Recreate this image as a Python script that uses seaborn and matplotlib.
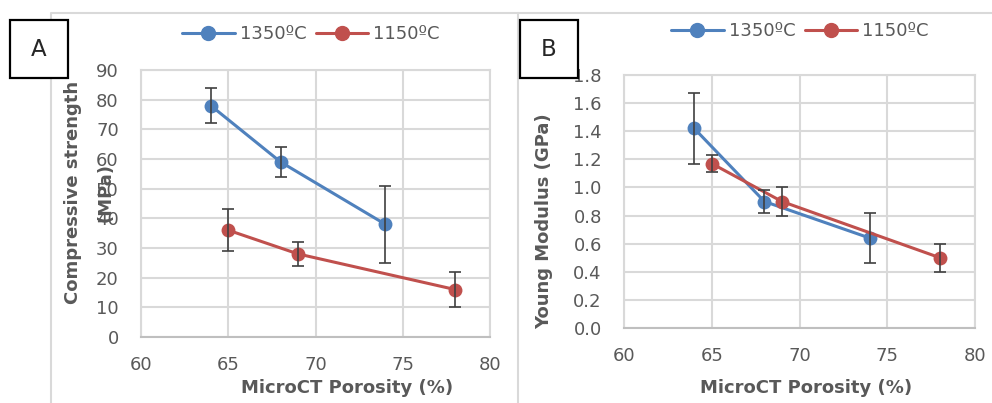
import pandas as pd
import seaborn as sns
import matplotlib.pyplot as plt
from matplotlib.patches import Rectangle
from matplotlib.lines import Line2D

# panel A: compressive strength
poro_1350 = [64, 68, 74]
poro_1150 = [65, 69, 78]
cs_1350 = [78, 59, 38]
cs_1350_err = [6, 5, 13]
cs_1150 = [36, 28, 16]
cs_1150_err = [7, 4, 6]

# panel B: young modulus
ym_1350 = [1.42, 0.90, 0.64]
ym_1350_err = [0.25, 0.085, 0.175]
ym_1150 = [1.17, 0.90, 0.50]
ym_1150_err = [0.06, 0.10, 0.10]

temps = ['1350ºC', '1150ºC']
colors = {'1350ºC': '#4F81BD', '1150ºC': '#C0504D'}

W, H = 992, 403
GRAY = '#595959'
GRID = '#D9D9D9'


def make_df(v1350, e1350, v1150, e1150):
    a = pd.DataFrame({'poro': poro_1350, 'val': v1350, 'err': e1350, 'temp': temps[0]})
    b = pd.DataFrame({'poro': poro_1150, 'val': v1150, 'err': e1150, 'temp': temps[1]})
    return pd.concat([a, b], ignore_index=True)


def px_axes(fig, x0, y0, x1, y1):
    return fig.add_axes([x0 / W, 1 - y1 / H, (x1 - x0) / W, (y1 - y0) / H])


def panel(ax, df, ylim, yticks, yfmt):
    sns.lineplot(data=df, x='poro', y='val', hue='temp', hue_order=temps, palette=colors,
                 marker='o', markersize=10, markeredgewidth=0, linewidth=2.2,
                 legend=False, ax=ax, zorder=3)
    for t in temps:
        d = df[df.temp == t]
        ax.errorbar(d.poro, d.val, yerr=d.err, fmt='none', ecolor='#404040',
                    elinewidth=1.2, capsize=4, capthick=1.2, zorder=4)
    ax.set_xlim(60, 80)
    ax.set_xticks([60, 65, 70, 75, 80])
    ax.set_ylim(*ylim)
    ax.set_yticks(yticks)
    ax.set_yticklabels([yfmt.format(v) for v in yticks])
    ax.grid(True, color=GRID, linewidth=1.5)
    ax.set_axisbelow(True)
    for s in ax.spines.values():
        s.set_color(GRID)
        s.set_linewidth(1.5)
    ax.spines['bottom'].set_color('#BFBFBF')
    ax.tick_params(axis='both', length=0, labelsize=13, labelcolor=GRAY)
    ax.tick_params(axis='y', pad=16)
    ax.tick_params(axis='x', pad=14)
    ax.set_xlabel('')
    ax.set_ylabel('')


def legend(fig, ax, cx, cy):
    handles = [Line2D([], [], color=colors[t], marker='o', markersize=10, linewidth=2.2) for t in temps]
    ax.legend(handles, temps, ncol=2, frameon=False, fontsize=13, labelcolor=GRAY,
              handlelength=2.9, handletextpad=0.3, columnspacing=0.5,
              loc='center', bbox_to_anchor=(cx / W, 1 - cy / H), bbox_transform=fig.transFigure)


def letter_box(fig, x0, y0, label):
    fig.patches.append(Rectangle((x0 / W, 1 - 78 / H), 58 / W, 58 / H, transform=fig.transFigure,
                                 facecolor='white', edgecolor='black', linewidth=1.6, zorder=10))
    fig.text((x0 + 29) / W, 1 - 49 / H, label, ha='center', va='center', fontsize=16.5, zorder=11)


sns.set_theme(style='whitegrid')
plt.rcParams['font.family'] = ['DejaVu Sans']

fig = plt.figure(figsize=(W / 100, H / 100), dpi=100)

# chart frames
fig.add_artist(Line2D([51 / W, 51 / W, 518 / W, 518 / W], [0, 1 - 13 / H, 1 - 13 / H, 0],
                      transform=fig.transFigure, color=GRID, linewidth=1.5))
fig.add_artist(Line2D([518 / W, 1], [1 - 13 / H, 1 - 13 / H],
                      transform=fig.transFigure, color=GRID, linewidth=1.5))

axA = px_axes(fig, 141, 70, 490, 337)
panel(axA, make_df(cs_1350, cs_1350_err, cs_1150, cs_1150_err), (0, 90), list(range(0, 91, 10)), '{:.0f}')
legend(fig, axA, 311, 34)

axB = px_axes(fig, 624, 75, 975, 328)
panel(axB, make_df(ym_1350, ym_1350_err, ym_1150, ym_1150_err), (0, 1.8),
      [0.0, 0.2, 0.4, 0.6, 0.8, 1.0, 1.2, 1.4, 1.6, 1.8], '{:.1f}')
legend(fig, axB, 800, 31)

# axis titles (the "(MPa)" line sits over the tick labels, as in the source)
fig.text(73 / W, 1 - 192 / H, 'Compressive strength', rotation=90, ha='center', va='center',
         fontsize=13, fontweight='bold', color=GRAY)
fig.text(106 / W, 1 - 192 / H, '(MPa)', rotation=90, ha='center', va='center',
         fontsize=13, fontweight='bold', color=GRAY)
fig.text(544 / W, 1 - 221 / H, 'Young Modulus (GPa)', rotation=90, ha='center', va='center',
         fontsize=13, fontweight='bold', color=GRAY)
fig.text(347 / W, 1 - 388 / H, 'MicroCT Porosity (%)', ha='center', va='center',
         fontsize=13, fontweight='bold', color=GRAY)
fig.text(806 / W, 1 - 388 / H, 'MicroCT Porosity (%)', ha='center', va='center',
         fontsize=13, fontweight='bold', color=GRAY)

letter_box(fig, 10, 20, 'A')
letter_box(fig, 520, 20, 'B')

plt.savefig('out.png', dpi=100)
